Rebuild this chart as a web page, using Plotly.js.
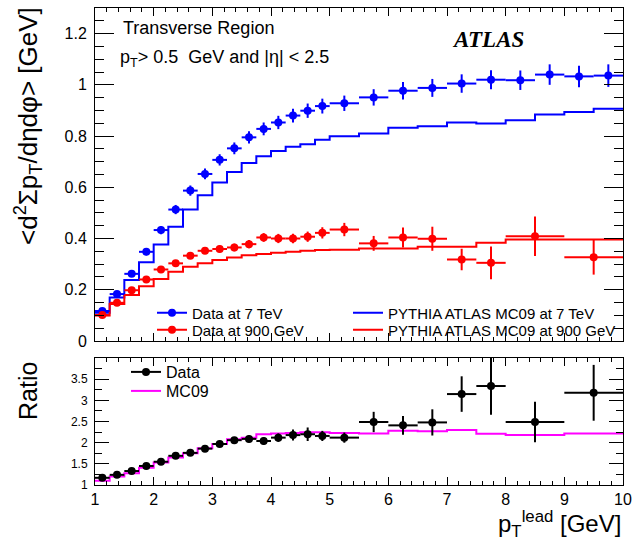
<!DOCTYPE html>
<html><head><meta charset="utf-8">
<script src="https://cdn.plot.ly/plotly-3.0.1.min.js"></script>
<style>body{margin:0;background:#fff;} #chart{width:632px;height:541px;}</style>
</head><body><div id="chart"></div>
<script>
// Bin edges (GeV)
const edges7 = [1,1.25,1.5,1.75,2,2.25,2.5,2.75,3,3.25,3.5,3.75,4,4.25,4.5,4.75,5,5.5,6,6.5,7,7.5,8,8.5,9,9.5,10];
const edges900 = [1,1.25,1.5,1.75,2,2.25,2.5,2.75,3,3.25,3.5,3.75,4,4.25,4.5,4.75,5,5.5,6,6.5,7,7.5,8,9,10];

// 7 TeV
const data7 = [0.117,0.183,0.262,0.348,0.433,0.513,0.587,0.652,0.707,0.752,0.795,0.828,0.853,0.880,0.899,0.917,0.928,0.951,0.977,0.988,1.005,1.020,1.018,1.040,1.033,1.036];
const err7 = [0.008,0.010,0.012,0.014,0.016,0.018,0.020,0.021,0.022,0.023,0.024,0.025,0.026,0.027,0.028,0.029,0.030,0.032,0.034,0.035,0.036,0.037,0.038,0.040,0.042,0.044];
const mc7 = [0.110,0.170,0.238,0.307,0.377,0.446,0.513,0.569,0.619,0.660,0.695,0.721,0.742,0.758,0.768,0.786,0.799,0.810,0.832,0.838,0.853,0.849,0.862,0.884,0.894,0.907];

// 900 GeV
const data900 = [0.101,0.149,0.198,0.240,0.279,0.303,0.333,0.352,0.359,0.365,0.378,0.404,0.400,0.400,0.407,0.422,0.435,0.381,0.404,0.399,0.318,0.305,0.409,0.327];
const err900 = [0.006,0.007,0.008,0.009,0.010,0.011,0.012,0.013,0.014,0.015,0.016,0.017,0.018,0.019,0.020,0.022,0.026,0.029,0.039,0.047,0.042,0.064,0.077,0.068];
const mc900 = [0.099,0.144,0.179,0.214,0.242,0.270,0.290,0.303,0.316,0.326,0.335,0.339,0.344,0.348,0.352,0.355,0.356,0.361,0.361,0.368,0.368,0.383,0.396,0.396];

// Ratio 7 TeV / 900 GeV
const ratioData = [1.17,1.24,1.33,1.45,1.55,1.69,1.76,1.86,1.97,2.06,2.09,2.04,2.12,2.18,2.20,2.16,2.12,2.49,2.41,2.48,3.15,3.34,2.49,3.18];
const ratioErr = [0.03,0.03,0.035,0.04,0.045,0.05,0.055,0.06,0.065,0.07,0.08,0.09,0.10,0.13,0.16,0.12,0.12,0.24,0.22,0.31,0.42,0.68,0.48,0.66];
const ratioMC = [1.10,1.20,1.28,1.41,1.53,1.65,1.75,1.87,1.97,2.08,2.12,2.20,2.22,2.23,2.25,2.25,2.23,2.22,2.28,2.27,2.30,2.21,2.18,2.22];

// Tick labels
const ratioTicks = [1,1.5,2,2.5,3,3.5];
const ratioTickText = ['1','1.5','2','2.5','3','3.5'];

function centers(e){ const c=[]; for(let i=0;i<e.length-1;i++) c.push((e[i]+e[i+1])/2); return c; }
function halfw(e){ const c=[]; for(let i=0;i<e.length-1;i++) c.push((e[i+1]-e[i])/2); return c; }
function stepY(v){ return v.concat([v[v.length-1]]); }

const FONT = '"Liberation Sans", Arial, Helvetica, sans-serif';

function dataTrace(e, y, err, color, xa, ya){
  return {x: centers(e), y: y, xaxis: xa, yaxis: ya, type:'scatter', mode:'markers',
    marker:{color:color, size:8}, showlegend:false, hoverinfo:'skip',
    error_y:{type:'data', array: err, color: color, thickness:2, width:0, visible:true},
    error_x:{type:'data', array: halfw(e), color: color, thickness:2, width:0, visible:true}};
}
function stepTrace(e, y, color, xa, ya){
  return {x: e, y: stepY(y), xaxis: xa, yaxis: ya, type:'scatter', mode:'lines',
    line:{color:color, width:2, shape:'hv'}, showlegend:false, hoverinfo:'skip'};
}
function legTrace(name, color, mode, leg, xa, ya){
  return {x:[null], y:[null], xaxis: xa, yaxis: ya, type:'scatter', mode: mode, name: name,
    line:{color:color, width:2}, marker:{color:color, size:8}, legend: leg, showlegend:true};
}

const traces = [
  stepTrace(edges7, mc7, '#0000ff', 'x', 'y'),
  stepTrace(edges900, mc900, '#ff0000', 'x', 'y'),
  dataTrace(edges7, data7, err7, '#0000ff', 'x', 'y'),
  dataTrace(edges900, data900, err900, '#ff0000', 'x', 'y'),
  stepTrace(edges900, ratioMC, '#ff00ff', 'x2', 'y2'),
  dataTrace(edges900, ratioData, ratioErr, '#000000', 'x2', 'y2'),
  legTrace('Data at 7 TeV', '#0000ff', 'lines+markers', 'legend', 'x', 'y'),
  legTrace('Data at 900 GeV', '#ff0000', 'lines+markers', 'legend2', 'x', 'y'),
  legTrace('PYTHIA ATLAS MC09 at 7 TeV', '#0000ff', 'lines', 'legend3', 'x', 'y'),
  legTrace('PYTHIA ATLAS MC09 at 900 GeV', '#ff0000', 'lines', 'legend4', 'x', 'y'),
  legTrace('Data', '#000000', 'lines+markers', 'legend5', 'x2', 'y2'),
  legTrace('MC09', '#ff00ff', 'lines', 'legend6', 'x2', 'y2')
];

// plot area: x 95..623, y 8..485
const px = p => (p-95)/528;
const py = p => (485-p)/477;

function leg(xp, yp, size){
  return {x: px(xp), y: py(yp), xanchor:'left', yanchor:'middle', bgcolor:'rgba(0,0,0,0)',
    borderwidth:0, font:{family:FONT, size:size, color:'#000'}, tracegroupgap:0};
}

const axBase = {showline:true, linecolor:'#000', linewidth:1, mirror:'allticks', ticks:'inside',
  tickcolor:'#000', showgrid:false, zeroline:false, tickfont:{family:FONT, color:'#000'}};

const layout = {
  width:632, height:541, margin:{l:95, r:9, t:8, b:56},
  paper_bgcolor:'#fff', plot_bgcolor:'#fff',
  font:{family:FONT, color:'#000'},
  xaxis: Object.assign({}, axBase, {domain:[0,1], anchor:'y', range:[1,10], tick0:1, dtick:1,
    ticklen:8, showticklabels:false,
    minor:{dtick:0.2, tick0:1, ticklen:4, ticks:'inside', tickcolor:'#000', showgrid:false}}),
  yaxis: Object.assign({}, axBase, {domain:[0.302,1], anchor:'x', range:[0,1.3], tick0:0, dtick:0.2,
    ticklen:19, tickfont:{family:FONT, size:16, color:'#000'}, ticklabelstandoff:4,
    minor:{dtick:0.05, tick0:0, ticklen:9, ticks:'inside', tickcolor:'#000', showgrid:false}}),
  xaxis2: Object.assign({}, axBase, {domain:[0,1], anchor:'y2', range:[1,10], tick0:1, dtick:1, matches:'x',
    ticklen:8, tickfont:{family:FONT, size:16, color:'#000'},
    minor:{dtick:0.2, tick0:1, ticklen:4, ticks:'inside', tickcolor:'#000', showgrid:false}}),
  yaxis2: Object.assign({}, axBase, {domain:[0,0.266], anchor:'x2', range:[1,4],
    tickmode:'array', tickvals: ratioTicks, ticktext: ratioTickText,
    ticklen:14, tickfont:{family:FONT, size:12, color:'#000'}, ticklabelstandoff:4,
    minor:{dtick:0.25, tick0:1, ticklen:7, ticks:'inside', tickcolor:'#000', showgrid:false}}),
  legend: leg(152, 313, 15),
  legend2: leg(152, 330, 15),
  legend3: leg(348, 313, 15),
  legend4: leg(348, 330, 15),
  legend5: leg(126, 372, 16),
  legend6: leg(126, 391, 16),
  annotations: [
    {xref:'paper', yref:'paper', x:px(121), y:py(28), xanchor:'left', yanchor:'middle', showarrow:false,
      text:'Transverse Region', font:{family:FONT, size:18, color:'#000'}},
    {xref:'paper', yref:'paper', x:px(118), y:py(59), xanchor:'left', yanchor:'middle', showarrow:false,
      text:'p<sub>T</sub>&gt; 0.5&nbsp; GeV and |η| &lt; 2.5', font:{family:FONT, size:18, color:'#000'}},
    {xref:'paper', yref:'paper', x:px(488), y:py(39), xanchor:'center', yanchor:'middle', showarrow:false,
      text:'<b><i>ATLAS</i></b>', font:{family:'"Liberation Serif", "Times New Roman", serif', size:23, color:'#000'}},
    {xref:'paper', yref:'paper', x:px(28), y:py(5), xanchor:'center', yanchor:'top', showarrow:false, textangle:-90,
      text:'&lt;d<sup>2</sup>Σp<sub>T</sub>/dηdφ&gt; [GeV]', font:{family:FONT, size:26, color:'#000'}},
    {xref:'paper', yref:'paper', x:px(28), y:py(391), xanchor:'center', yanchor:'middle', showarrow:false, textangle:-90,
      text:'Ratio', font:{family:FONT, size:25, color:'#000'}},
    {xref:'paper', yref:'paper', x:px(623), y:py(524), xanchor:'right', yanchor:'middle', showarrow:false,
      text:'p<sub>T</sub><sup>lead</sup> [GeV]', font:{family:FONT, size:24, color:'#000'}}
  ]
};

Plotly.newPlot('chart', traces, layout, {staticPlot:true, displayModeBar:false});
</script>
</body></html>
